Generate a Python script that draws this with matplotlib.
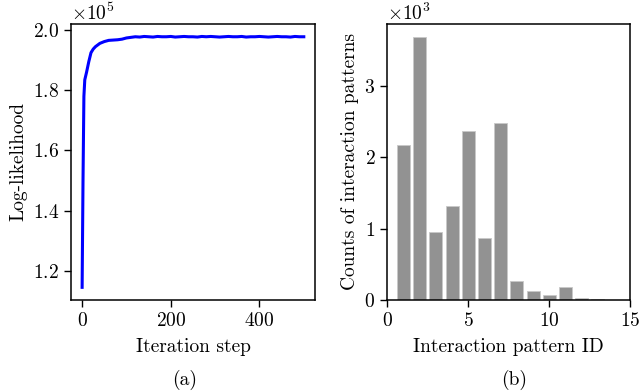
"""Log-likelihood trace (a) and interaction-pattern counts (b)."""
import matplotlib
matplotlib.use("Agg")
import matplotlib.pyplot as plt  # noqa: E402

plt.rcParams.update({
    "font.family": "serif",
    "font.serif": ["cmr10"],
    "mathtext.fontset": "cm",
    "axes.formatter.use_mathtext": True,
    "font.size": 14,
    "axes.unicode_minus": False,
})

# (a) log-likelihood vs iteration
iter_steps = [0, 2, 4, 6, 10, 15, 20, 25, 30, 40, 50, 60, 70, 80, 90, 100,
              110, 120, 130, 140, 150, 160, 170, 180, 190, 200, 210, 220,
              230, 240, 250, 260, 270, 280, 290, 300, 310, 320, 330, 340,
              350, 360, 370, 380, 390, 400, 410, 420, 430, 440, 450, 460,
              470, 480, 490, 500]
loglik = [114500, 150000, 178000, 183500, 186000, 189500, 192500, 193700,
          194500, 195600, 196200, 196600, 196700, 196800, 197000, 197400,
          197600, 197800, 197700, 197900, 197800, 197700, 197900, 197800,
          197800, 197900, 197700, 197800, 197900, 197800, 197800, 197700,
          197900, 197800, 197900, 197800, 197700, 197800, 197900, 197800,
          197800, 197900, 197700, 197800, 197800, 197900, 197800, 197700,
          197800, 197900, 197800, 197800, 197700, 197900, 197800, 197800]

# (b) counts per interaction pattern
pattern_ids = [1, 2, 3, 4, 5, 6, 7, 8, 9, 10, 11, 12, 13]
pattern_counts = [2170, 3680, 950, 1320, 2370, 870, 2480, 265, 125, 65,
                  185, 25, 12]

fig = plt.figure(figsize=(6.4, 3.92), dpi=100)
ax1 = fig.add_axes([0.111, 0.235, 0.381, 0.704])
ax2 = fig.add_axes([0.605, 0.235, 0.380, 0.704])

ax1.plot(iter_steps, loglik, color="b", lw=2.2)
ax1.set_xticks([0, 200, 400])
ax1.set_yticks([120000, 140000, 160000, 180000, 200000])
ax1.ticklabel_format(axis="y", style="sci", scilimits=(0, 0), useOffset=False)
ax1.set_xlabel("Iteration step", labelpad=6)
ax1.set_ylabel("Log-likelihood")

ax2.bar(pattern_ids, pattern_counts, width=0.8, color="#929292",
        edgecolor="#c8c8c8", linewidth=0.6)
ax2.set_xlim(0, 15)
ax2.set_ylim(0, 3870)
ax2.set_xticks([0, 5, 10, 15])
ax2.set_yticks([0, 1000, 2000, 3000])
ax2.ticklabel_format(axis="y", style="sci", scilimits=(0, 0), useOffset=False)
ax2.set_xlabel("Interaction pattern ID", labelpad=6)
ax2.set_ylabel("Counts of interaction patterns")

for ax in (ax1, ax2):
    ax.tick_params(length=5, width=1)
    for s in ax.spines.values():
        s.set_linewidth(1.1)

fig.text(0.288, 0.03, "(a)", ha="center", va="center")
fig.text(0.803, 0.03, "(b)", ha="center", va="center")

fig.savefig("out.png", dpi=100)
